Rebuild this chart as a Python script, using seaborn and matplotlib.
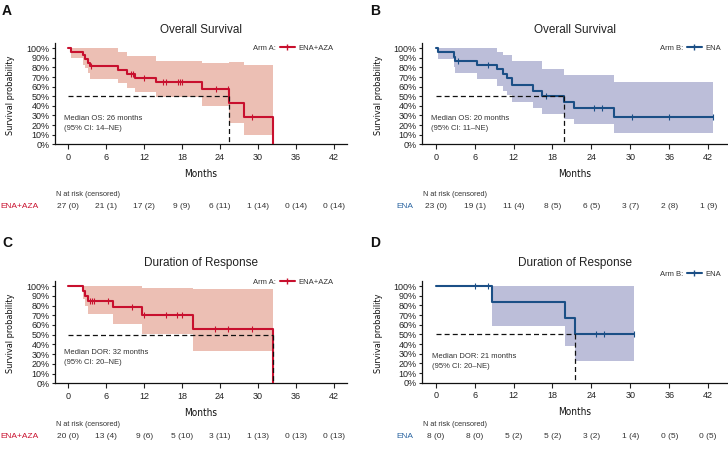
import numpy as np
import pandas as pd
import matplotlib
matplotlib.use("Agg")
import matplotlib.pyplot as plt
import seaborn as sns
from matplotlib import font_manager as fm
from matplotlib.lines import Line2D
from matplotlib.ticker import PercentFormatter
from matplotlib.transforms import blended_transform_factory

# ---------------- data ----------------
months_ticks = [0, 6, 12, 18, 24, 30, 36, 42]

# Panel A: Overall survival, Arm A (ENA+AZA)
os_a_time = [0, 0.4, 2.4, 2.7, 3.1, 3.4, 7.9, 9.3, 10.6, 13.9, 21.1, 25.4, 27.8, 32.4]
os_a_surv = [1.0, 0.963, 0.926, 0.889, 0.852, 0.815, 0.776, 0.737, 0.694, 0.652, 0.579, 0.434, 0.289, 0.0]
os_a_low = [1.0, 0.90, 0.83, 0.79, 0.74, 0.68, 0.635, 0.59, 0.54, 0.49, 0.40, 0.22, 0.10, 0.10]
os_a_up = [1.0, 1.0, 1.0, 1.0, 1.0, 1.0, 0.96, 0.92, 0.92, 0.87, 0.845, 0.855, 0.825, 0.825]
os_a_cens = [3.6, 9.9, 10.3, 12.0, 15.0, 15.5, 17.4, 17.7, 18.0, 23.3, 25.2, 29.0]
os_a_risk = [27, 21, 17, 9, 6, 1, 0, 0]
os_a_risk_cens = [0, 1, 2, 9, 11, 14, 14, 14]

# Panel B: Overall survival, Arm B (ENA)
os_b_time = [0, 0.4, 2.8, 3.0, 6.3, 9.4, 10.4, 11.0, 11.8, 15.0, 16.4, 19.8, 21.3, 27.5, 42.7]
os_b_surv = [1.0, 0.957, 0.913, 0.870, 0.826, 0.780, 0.733, 0.687, 0.622, 0.560, 0.505, 0.438, 0.375, 0.281, 0.281]
os_b_low = [1.0, 0.885, 0.80, 0.745, 0.68, 0.61, 0.56, 0.51, 0.445, 0.38, 0.32, 0.26, 0.21, 0.12, 0.12]
os_b_up = [1.0, 1.0, 1.0, 1.0, 1.0, 0.965, 0.93, 0.93, 0.87, 0.87, 0.78, 0.72, 0.72, 0.65, 0.65]
os_b_cens = [3.4, 8.1, 17.0, 24.4, 25.7, 30.3, 36.0, 42.7]
os_b_risk = [23, 19, 11, 8, 6, 3, 2, 1]
os_b_risk_cens = [0, 1, 4, 5, 5, 7, 8, 9]

# Panel C: Duration of response, Arm A (ENA+AZA)
dor_a_time = [0, 2.3, 2.6, 3.2, 7.0, 11.7, 19.7, 32.4]
dor_a_surv = [1.0, 0.95, 0.90, 0.85, 0.78, 0.705, 0.56, 0.0]
dor_a_low = [1.0, 0.87, 0.79, 0.71, 0.61, 0.51, 0.33, 0.33]
dor_a_up = [1.0, 1.0, 1.0, 1.0, 1.0, 0.983, 0.966, 0.966]
dor_a_cens = [3.4, 3.7, 4.0, 6.3, 10.1, 12.0, 15.5, 17.2, 17.95, 23.2, 25.3, 29.1]
dor_a_risk = [20, 13, 9, 5, 3, 1, 0, 0]
dor_a_risk_cens = [0, 4, 6, 10, 11, 13, 13, 13]

# Panel D: Duration of response, Arm B (ENA)
dor_b_time = [0, 8.7, 19.9, 21.4, 30.6]
dor_b_surv = [1.0, 0.833, 0.667, 0.50, 0.50]
dor_b_low = [1.0, 0.586, 0.38, 0.228, 0.228]
dor_b_up = [1.0, 1.0, 1.0, 1.0, 1.0]
dor_b_cens = [6.1, 8.1, 24.7, 25.9, 30.6]
dor_b_risk = [8, 8, 5, 5, 3, 1, 0, 0]
dor_b_risk_cens = [0, 0, 2, 2, 2, 4, 5, 5]

# ---------------- style ----------------
sns.set_theme(style="ticks")
plt.rcParams['font.family'] = ['Liberation Sans', 'DejaVu Sans']

# condensed font for axis titles, if available
_fonts = fm.fontManager.ttflist
_names = {f.name for f in _fonts}
NARROW_KW = dict(family=['Liberation Sans', 'DejaVu Sans'])
if 'Liberation Sans Narrow' in _names:
    NARROW_KW = dict(family=['Liberation Sans Narrow', 'DejaVu Sans'])
else:
    cond = [f for f in _fonts if 'condensed' in str(f.stretch).lower()
            or 'Condensed' in f.fname or 'Narrow' in f.fname]
    if cond:
        pick = None
        for pref in ('DejaVu Sans', 'Roboto', 'Open Sans', 'Noto Sans', 'Lato'):
            for f in cond:
                if f.name == pref and f.weight in (400, 'normal', 'regular') \
                        and f.style == 'normal':
                    pick = f
                    break
            if pick:
                break
        if pick is None:
            pick = cond[0]
        NARROW_KW = dict(fontproperties=fm.FontProperties(fname=pick.fname))

RED = "#C8102E"
RED_BAND = "#ECBFB4"
BLUE = "#1B4F86"
BLUE_BAND = "#BCBED9"
BLUE_TXT = "#2A64A0"

W, H = 728, 450
fig = plt.figure(figsize=(W / 100, H / 100), dpi=100)


def add_axes_px(l, r, t, b):
    return fig.add_axes([l / W, 1 - b / H, (r - l) / W, (b - t) / H])


def ftext(x, y, s, **kw):
    return fig.text(x / W, 1 - y / H, s, **kw)


def ftext_narrow(x, y, s, size, **kw):
    if 'fontproperties' in NARROW_KW:
        fp = NARROW_KW['fontproperties'].copy()
        fp.set_size(size)
        return fig.text(x / W, 1 - y / H, s, fontproperties=fp, **kw)
    return fig.text(x / W, 1 - y / H, s, fontsize=size, family=NARROW_KW['family'], **kw)


def draw_panel(lay, t, s, lo, up, cens, risk, rcens, color, band, txtcolor,
               title, letter, arm, name, med_lab, ci_lab):
    ax = add_axes_px(*lay['rect'])
    ax.set_xlim(*lay['xlim'])
    ax.set_ylim(0, 1.052)

    ax.fill_between(t, lo, up, step='post', color=band, lw=0, zorder=0)
    df = pd.DataFrame({'t': t, 's': s})
    sns.lineplot(data=df, x='t', y='s', drawstyle='steps-post', color=color,
                 lw=1.5, ax=ax, estimator=None, sort=False, legend=False, zorder=3)
    t_arr = np.asarray(t)
    s_arr = np.asarray(s)
    idx = np.searchsorted(t_arr, np.asarray(cens), side='right') - 1
    cy = s_arr[idx]
    sns.scatterplot(x=cens, y=cy, marker='|', s=22, color=color, linewidth=0.8,
                    ax=ax, zorder=4, legend=False)

    # median
    med = t_arr[np.argmax(s_arr <= 0.5)]
    ax.plot([0, med], [0.5, 0.5], ls=(0, (4, 2.5)), color='#111111', lw=0.9, zorder=5)
    ax.plot([med, med], [0.5, 0], ls=(0, (4, 2.5)), color='#111111', lw=0.9, zorder=5)

    ax.set_xticks(months_ticks)
    ax.set_yticks(np.round(np.arange(0, 1.01, 0.1), 2))
    ax.yaxis.set_major_formatter(PercentFormatter(1.0, decimals=0))
    ax.tick_params(axis='x', length=3.5, width=0.8, labelsize=6.5, pad=2.5,
                   colors='#222222')
    ax.tick_params(axis='y', length=2.5, width=0.8, labelsize=6.5, pad=1.5,
                   colors='#222222')
    ax.set_xlabel('')
    ax.set_ylabel('')
    sns.despine(ax=ax)
    for sp in ('left', 'bottom'):
        ax.spines[sp].set_linewidth(0.9)
        ax.spines[sp].set_color('#111111')

    l, r, tp, b = lay['rect']
    cx = (l + r) / 2
    ftext(lay['letter'][0], lay['letter'][1], letter, fontsize=10, fontweight='bold',
          ha='left', va='top', color='#111111')
    ftext(cx, lay['title_y'], title, fontsize=8.5, ha='center', va='center',
          color='#222222')
    ftext_narrow(cx, b + 29.5, 'Months', 7.2, ha='center', va='center',
                 color='#111111')
    ftext_narrow(l - 44, (tp + b) / 2 + 1, 'Survival probability', 6.6,
                 rotation=90, ha='center', va='center', color='#111111')

    # median annotation
    ftext(lay['med'][0], lay['med'][1], med_lab, fontsize=5.5, ha='left',
          va='center', color='#333333')
    ftext(lay['med'][0], lay['med'][1] + 9, ci_lab, fontsize=5.5, ha='left',
          va='center', color='#333333')

    # legend
    lx, ly = lay['leg']
    ftext(lx - 4, ly, arm, fontsize=5.5, ha='right', va='center', color='#333333')
    h = Line2D([0], [0], color=color, lw=1.5, marker='|', markersize=4.5,
               markeredgewidth=1.0)
    ax.legend(handles=[h], labels=[name], loc='center left',
              bbox_to_anchor=(lx / W, 1 - ly / H), bbox_transform=fig.transFigure,
              frameon=False, fontsize=5.5, handlelength=1.9, handletextpad=0.5,
              borderpad=0, borderaxespad=0, labelcolor='#333333')

    # number at risk table
    ry = lay['risk_y']
    ftext(l + 1, ry - 12, 'N at risk (censored)', fontsize=5.3, ha='left',
          va='center', color='#333333')
    tr = blended_transform_factory(ax.transData, fig.transFigure)
    for xm, n, c in zip(months_ticks, risk, rcens):
        ax.text(xm, 1 - ry / H, f"{n} ({c})", transform=tr, fontsize=6,
                ha='center', va='center', color='#333333', clip_on=False)
    ftext(lay['name'][0], ry, name, fontsize=6, ha=lay['name'][1], va='center',
          color=txtcolor)
    return ax


lay_a = dict(rect=(55, 347, 43.3, 144.3), xlim=(-2.1, 44.1), letter=(2, 4),
             title_y=30, med=(64, 119), leg=(280, 48), risk_y=207, name=(0, 'left'))
lay_b = dict(rect=(422, 727, 43.3, 144.3), xlim=(-2.1, 44.9), letter=(370, 4),
             title_y=30, med=(431, 119), leg=(687, 48), risk_y=207, name=(396, 'left'))
lay_c = dict(rect=(55, 347, 281, 383.3), xlim=(-2.1, 44.1), letter=(2, 236),
             title_y=263, med=(64, 353), leg=(280, 282), risk_y=437, name=(0, 'left'))
lay_d = dict(rect=(422, 727, 281, 382.7), xlim=(-2.1, 44.9), letter=(370, 236),
             title_y=263, med=(432, 357), leg=(687, 274), risk_y=437, name=(396, 'left'))

draw_panel(lay_a, os_a_time, os_a_surv, os_a_low, os_a_up, os_a_cens, os_a_risk,
           os_a_risk_cens, RED, RED_BAND, RED, 'Overall Survival', 'A', 'Arm A:',
           'ENA+AZA', 'Median OS: 26 months', '(95% CI: 14\u2013NE)')
draw_panel(lay_b, os_b_time, os_b_surv, os_b_low, os_b_up, os_b_cens, os_b_risk,
           os_b_risk_cens, BLUE, BLUE_BAND, BLUE_TXT, 'Overall Survival', 'B', 'Arm B:',
           'ENA', 'Median OS: 20 months', '(95% CI: 11\u2013NE)')
draw_panel(lay_c, dor_a_time, dor_a_surv, dor_a_low, dor_a_up, dor_a_cens, dor_a_risk,
           dor_a_risk_cens, RED, RED_BAND, RED, 'Duration of Response', 'C', 'Arm A:',
           'ENA+AZA', 'Median DOR: 32 months', '(95% CI: 20\u2013NE)')
draw_panel(lay_d, dor_b_time, dor_b_surv, dor_b_low, dor_b_up, dor_b_cens, dor_b_risk,
           dor_b_risk_cens, BLUE, BLUE_BAND, BLUE_TXT, 'Duration of Response', 'D', 'Arm B:',
           'ENA', 'Median DOR: 21 months', '(95% CI: 20\u2013NE)')

fig.savefig('out.png', dpi=100, facecolor='white')
